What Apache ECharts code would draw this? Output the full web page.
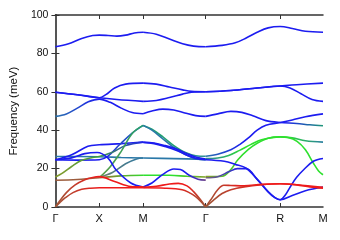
<!DOCTYPE html>
<html><head><meta charset="utf-8">
<script src="https://cdn.jsdelivr.net/npm/echarts@6/dist/echarts.min.js"></script>
<style>html,body{margin:0;padding:0;background:#fff}#c{width:340px;height:240px}</style>
</head><body><div id="c"></div>
<script>
// ---- path labels and positions ----
const kLabels = ['Γ', 'X', 'M', 'Γ', 'R', 'M'];
const kTicks = [0, 1, 2, 3.427, 5.124, 6.101];
const yTickValues = [0, 20, 40, 60, 80, 100];

// ---- branches: [k, frequency meV] ----
// Γ - X - M
const top1 = [[0,83.5],[0.3,85],[0.6,87.8],[0.85,89.3],[1,89.5],[1.2,89.3],[1.4,89],[1.6,89.5],[1.8,90.6],[2,91]];
const hiA1 = [[0,59.8],[0.5,58.5],[1,56.9],[1.15,58.5],[1.35,62],[1.6,64],[2,64.5]];
const hiB1 = [[0,59.8],[0.5,58.5],[1,56.9],[1.4,56],[2,55]];
const mid1 = [[0,47.2],[0.25,48.5],[0.5,51.5],[0.75,54.8],[1,56.2],[1.25,54.5],[1.5,51.5],[1.75,49.2],[2,48.6]];
const ta1 = [[0,0],[0.1,2.3],[0.22,4.7],[0.4,7.5],[0.6,9.2],[0.8,9.8],[1,10],[1.5,10],[2,10]];
const la1 = [[0,0],[0.1,3.2],[0.25,7.5],[0.45,11.5],[0.67,14.2],[0.85,15.4],[1,15.8],[1.35,13.3],[1.72,10.7],[2,10.5]];
const brn1 = [[0,13.9],[0.5,14.3],[1,15.2]];
const grnFlat1 = [[1,15.2],[1.5,16.2],[2,16.5]];
const grnUp1 = [[1,15.3],[1.25,21],[1.5,29],[1.76,38.5],[2,42.5]];
const tealUp1 = [[1,15.5],[1.3,18],[1.6,22.5],[1.85,25],[2,25.5]];
const olive1 = [[0,15.6],[0.15,17.5],[0.37,21.1],[0.6,24.3],[0.85,25.8],[1,26.3],[1.3,28.5],[1.6,32],[2,33.8]];
const blueA1 = [[0,24.6],[0.37,27.2],[0.74,31.6],[1,32.4],[1.5,33],[2,33.8]];
const blueDip1 = [[0,24.6],[0.37,25.6],[0.67,27.8],[0.95,28.4],[1.2,25.5],[1.38,19.4],[1.72,12.5],[2,10.4]];
const blueC1 = [[0,24.6],[0.5,24.4],[1,24.6],[1.2,26.5],[1.46,32.4],[1.75,38.5],[2,42.5]];
const teal1 = [[0,26.3],[0.5,26.3],[1,26.2],[1.5,25.8],[2,25.5]];
// M - Γ
const top2 = [[2,91],[2.3,90],[2.6,87.5],[2.9,85],[3.15,83.8],[3.427,83.5]];
const hiA2 = [[2,64.5],[2.3,64],[2.6,62.5],[2.9,61],[3.1,60.2],[3.427,60]];
const hiB2 = [[2,55],[2.3,55.5],[2.6,57],[2.9,58.8],[3.1,59.8],[3.427,60]];
const mid2 = [[2,48.6],[2.2,50],[2.45,51],[2.7,50.5],[2.95,49],[3.2,47.6],[3.427,47.2]];
const grnDn2 = [[2,42.5],[2.2,40.5],[2.45,36.5],[2.7,32],[2.95,28.5],[3.2,26.7],[3.427,26.4]];
const tealDn2 = [[2,42.5],[2.2,40],[2.45,35.5],[2.7,31],[2.95,27.5],[3.2,25.2],[3.427,24.6]];
const blueDn2 = [[2,33.8],[2.25,33.3],[2.5,32],[2.75,30.3],[3,27.8],[3.2,26],[3.427,25]];
const blueDn2b = [[2,33.6],[2.25,33],[2.5,31.5],[2.75,29.6],[3,27],[3.2,25.3],[3.427,24.6]];
const teal2 = [[2,25.5],[2.7,25.2],[3.427,24.8]];
const grn2 = [[2,16.5],[2.6,16.5],[3,16],[3.427,15.6]];
const bump2 = [[2,10.4],[2.2,12.5],[2.45,17],[2.7,19.8],[2.85,19.5],[3.05,16.5],[3.25,14.5],[3.427,14]];
const red2a = [[2,10.2],[2.3,10.8],[2.6,12],[2.8,12.3],[3,11],[3.15,8],[3.3,4],[3.427,0]];
const red2b = [[2,10],[2.5,9.8],[2.89,9],[3.05,7.5],[3.19,5.5],[3.32,2.8],[3.427,0]];
// Γ - R - M
const top3 = [[3.427,83.5],[3.8,84.2],[4.1,85.5],[4.35,88],[4.6,91],[4.85,93.3],[5.124,94],[5.4,93],[5.7,91.5],[6.101,91]];
const hiA3 = [[3.427,60],[4,60.7],[4.6,62],[5.124,63],[5.5,63.7],[6.101,64.5]];
const hiB3 = [[3.427,60],[4,60.7],[4.6,62],[5.124,63],[5.35,62],[5.6,59],[5.85,56],[6.101,55]];
const mid3 = [[3.427,47.2],[3.7,48.5],[4,49.8],[4.25,49.3],[4.5,47.5],[4.8,45],[5.124,44],[5.5,43.5],[5.8,42.8],[6.101,42.3]];
const rise3 = [[3.427,26.4],[3.7,27.5],[4,29.8],[4.2,32.5],[4.4,36],[4.6,40],[4.8,42.6],[5.124,44],[5.4,45.3],[5.7,47],[6.101,48.5]];
const grn3 = [[3.427,15.8],[3.8,16],[4,19.5],[4.16,24.6],[4.4,30],[4.61,33.3],[4.85,35.8],[5.124,36.5],[5.3,36.2],[5.51,34.2],[5.7,29.8],[5.88,22.9],[6,18.8],[6.101,16.8]];
const tg3 = [[3.427,25.2],[3.7,25.5],[3.95,26.8],[4.2,29.5],[4.45,32.5],[4.7,35],[5.124,36.5],[5.4,36],[5.7,34.5],[6.101,33.8]];
const down3 = [[3.427,24.6],[3.85,23.8],[4.1,22.2],[4.35,20.2],[4.6,14.5],[4.85,8],[5,5],[5.124,3.8],[5.25,6.5],[5.36,10.7],[5.5,15.5],[5.66,19.4],[5.88,23.8],[6.101,25.3]];
const bump3 = [[3.427,15.2],[3.7,15.8],[3.95,18.3],[4.15,20],[4.35,20],[4.6,14.3],[4.85,7.8],[5,4.9],[5.124,3.8],[5.4,6],[5.7,8.5],[6.101,10.4]];
const red3a = [[3.427,0],[3.55,4],[3.7,9],[3.84,11.3],[4,11.2],[4.3,11],[4.7,11.8],[5.124,12.1],[5.5,11.5],[5.8,10.5],[6.101,9.8]];
const red3b = [[3.427,0],[3.6,3.5],[3.8,7],[4,9],[4.3,10.5],[4.7,11.6],[5.124,12.1],[5.5,11.6],[6.101,10.2]];

// ---- colours ----
const BLUE = '#1c1cf0', TEAL = '#2a78a8', GRN = '#2ee02e', GT = '#20a070', RED = '#ee1a1a', BRN = '#9a5a3a', OLV = '#8a9a2a';
const branches = [
  [top1,[BLUE]],[hiA1,[BLUE]],[hiB1,[BLUE]],[mid1,[TEAL,BLUE,BLUE]],
  [top2,[BLUE]],[hiA2,[BLUE]],[hiB2,[BLUE]],[mid2,[BLUE]],
  [top3,[BLUE]],[hiA3,[BLUE]],[hiB3,[BLUE]],[mid3,[BLUE,BLUE,BLUE,GT]],
  [teal1,[TEAL]],[teal2,[TEAL]],
  [blueA1,[BLUE]],[blueC1,[BLUE,BLUE,TEAL]],[olive1,[OLV,'#40a040',BLUE]],
  [grnUp1,['#60a040',GT]],[tealUp1,['#70806a',TEAL]],
  [grnDn2,[GT,GT,'#30909a']],[tealDn2,[TEAL,TEAL]],[blueDn2,[BLUE]],[blueDn2b,[BLUE]],
  [rise3,[TEAL,BLUE,BLUE,BLUE]],[tg3,[TEAL,GRN,GRN,TEAL]],[grn3,[OLV,GRN,GRN,GRN]],
  [grn2,[GRN,GRN,OLV]],[grnFlat1,['#a06a30',GRN]],[brn1,[BRN,'#a06040']],
  [blueDip1,[BLUE]],[bump2,[BLUE,BLUE,BLUE,'#7a4a7a']],[bump3,['#7a6a6a',BLUE,BLUE,BLUE]],[down3,[BLUE]],
  [ta1,[BRN,RED,RED]],[la1,[BRN,RED,RED]],[red2a,[RED,RED,RED,BRN]],[red2b,[RED,RED,BRN]],
  [red3a,[BRN,RED,RED,RED]],[red3b,[BRN,RED,RED]]
];

function grad(cols){
  if(cols.length===1) return cols[0];
  return new echarts.graphic.LinearGradient(0,0,1,0, cols.map((c,i)=>({offset:i/(cols.length-1), color:c})));
}

const chart = echarts.init(document.getElementById('c'), null, {renderer:'canvas'});
const axisColor = '#333';
const font = 'Liberation Sans, Arial, sans-serif';
function labelFor(v){
  for(let i=0;i<kTicks.length;i++) if(Math.abs(v-kTicks[i])<1e-6) return kLabels[i];
  return '';
}
chart.setOption({
  animation:false,
  grid:{left:51.5, right:17, top:15, bottom:33},
  xAxis:[{
    type:'value', min:kTicks[0], max:kTicks[kTicks.length-1],
    axisLine:{show:true, onZero:false, lineStyle:{color:axisColor, width:1.5}},
    axisTick:{show:true, inside:true, length:4, customValues:kTicks.slice(1,-1), lineStyle:{color:axisColor}},
    axisLabel:{show:true, customValues:kTicks, formatter:labelFor, showMinLabel:true, showMaxLabel:true, margin:6, color:'#111', fontSize:11, fontFamily:font},
    splitLine:{show:false}
  },{
    type:'value', position:'top', min:kTicks[0], max:kTicks[kTicks.length-1],
    axisLine:{show:true, onZero:false, lineStyle:{color:axisColor, width:1.5}},
    axisTick:{show:true, inside:true, length:4, customValues:kTicks.slice(1,-1), lineStyle:{color:axisColor}},
    axisLabel:{show:false}, splitLine:{show:false}
  }],
  yAxis:[{
    type:'value', min:0, max:100, interval:20,
    name:'Frequency (meV)', nameLocation:'middle', nameGap:31, nameRotate:90,
    nameTextStyle:{color:'#111', fontSize:11.5, fontFamily:font},
    axisLine:{show:true, lineStyle:{color:'#555', width:2}},
    axisTick:{show:true, inside:true, length:4, lineStyle:{color:axisColor}},
    axisLabel:{color:'#111', fontSize:10.5, fontFamily:font, margin:7},
    splitLine:{show:false}
  },{
    type:'value', position:'right', min:0, max:100, interval:20,
    axisLine:{show:true, lineStyle:{color:'#555', width:2}},
    axisTick:{show:true, inside:true, length:4, lineStyle:{color:axisColor}},
    axisLabel:{show:false}, splitLine:{show:false}
  }],
  series: branches.map(([d,cols])=>({
    type:'line', data:d, smooth:0.35, showSymbol:false, symbol:'none', clip:true,
    lineStyle:{width:1.6, color:grad(cols)}, silent:true
  }))
});
</script>
</body></html>
